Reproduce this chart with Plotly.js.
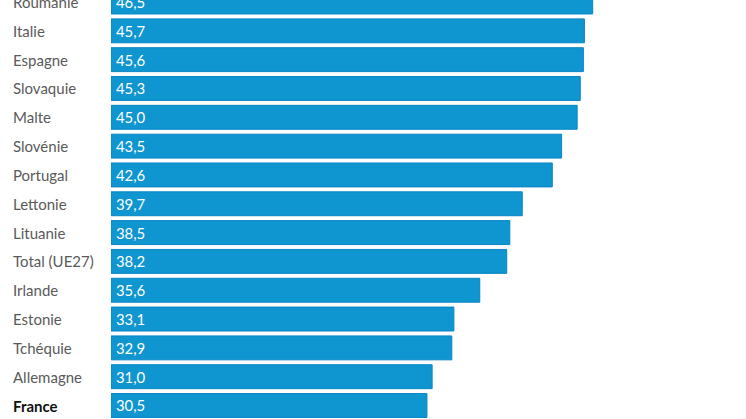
<!DOCTYPE html>
<html><head><meta charset="utf-8">
<script src="https://cdn.plot.ly/plotly-3.0.1.min.js"></script>
<style>html,body{margin:0;padding:0;background:#fff;}#chart{width:746px;height:419px;}</style>
</head><body><div id="chart"></div>
<script>
const countries = ["France","Allemagne","Tchéquie","Estonie","Irlande","Total (UE27)","Lituanie","Lettonie","Portugal","Slovénie","Malte","Slovaquie","Espagne","Italie","Roumanie"];
const values = [30.5,31.0,32.9,33.1,35.6,38.2,38.5,39.7,42.6,43.5,45.0,45.3,45.6,45.7,46.5];
const highlight = "France";

const FONT = "Source Sans Pro, Lato, Roboto, sans-serif";
const annotations = countries.map((c, i) => ({
  xref: 'paper', yref: 'y', x: -0.1575, y: i, xanchor: 'left', yanchor: 'middle',
  text: c === highlight ? '<b>' + c + '</b>' : c, showarrow: false,
  font: {family: FONT, size: 15, color: c === highlight ? '#111' : '#5a5a5a'}
}));

const trace = {
  type: 'bar', orientation: 'h', x: values, y: countries.map((c,i)=>i),
  marker: {color: '#0f95d0', line: {color: '#0886c4', width: 1}},
  texttemplate: '\u200A\u200A%{x:.1f}', textposition: 'inside', insidetextanchor: 'start',
  textfont: {family: FONT, size: 15, color: '#ffffff'}, hoverinfo: 'none', cliponaxis: false
};

const layout = {
  width: 746, height: 419, margin: {l: 111, r: 0, t: 0, b: 0},
  paper_bgcolor: '#fff', plot_bgcolor: '#fff', separators: ', ',
  bargap: 0.17, showlegend: false,
  xaxis: {range: [0, 61.3], visible: false, fixedrange: true},
  yaxis: {range: [-0.468, 14.07], visible: false, fixedrange: true},
  annotations: annotations
};
Plotly.newPlot('chart', [trace], layout, {displayModeBar: false, staticPlot: true});
</script></body></html>
